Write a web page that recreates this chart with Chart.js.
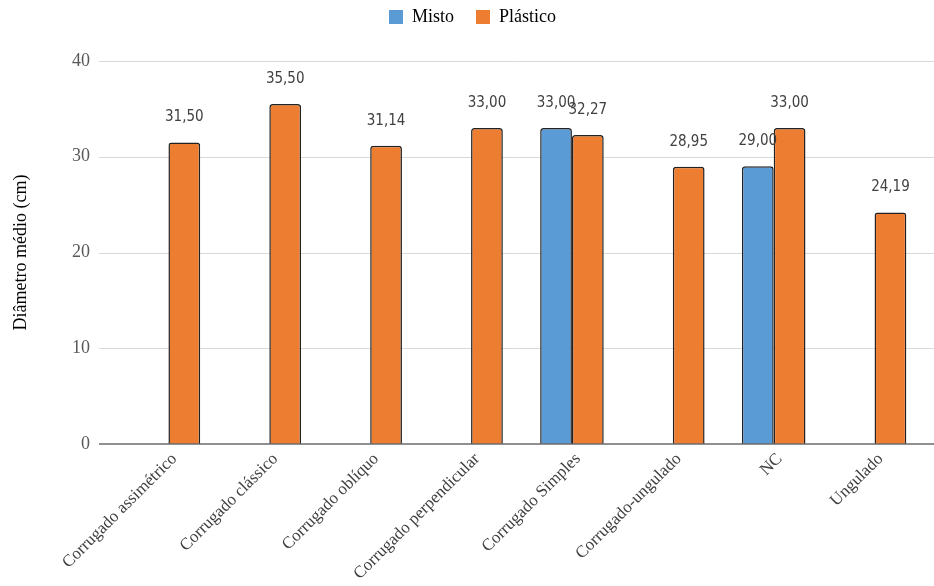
<!DOCTYPE html>
<html>
<head>
<meta charset="utf-8">
<script src="https://cdn.jsdelivr.net/npm/chart.js@4.4.1/dist/chart.umd.min.js"></script>
<style>
  html, body { margin: 0; padding: 0; background: #fff; }
  #wrap { width: 934px; height: 586px; position: relative; }
</style>
</head>
<body>
<div id="wrap"><canvas id="c"></canvas></div>
<script>
// Tipos de corrugado avaliados
const categories = [
  'Corrugado assimétrico',
  'Corrugado clássico',
  'Corrugado oblíquo',
  'Corrugado perpendicular',
  'Corrugado Simples',
  'Corrugado-ungulado',
  'NC',
  'Ungulado'
];

// Diâmetro médio (cm) por material
const seriesNames = ['Misto', 'Plástico'];
const mistoValues    = [null, null, null, null, 33.00, null, 29.00, null];
const plasticoValues = [31.50, 35.50, 31.14, 33.00, 32.27, 28.95, 33.00, 24.19];

// Escala do eixo Y
const yMin = 0;
const yMax = 40;
const yStep = 10;

const SERIF = "'Liberation Serif', 'Times New Roman', serif";
const LABEL_FONT = "15px 'DejaVu Sans Condensed', 'DejaVu Sans', sans-serif";

const fmt = v => v.toFixed(2).replace('.', ',');

// Linhas de grade horizontais, linha de base, legenda e rótulos de valor
const gridAndLabels = {
  id: 'gridAndLabels',
  beforeLayout(chart) {
    const lg = chart.legend;
    if (lg && !lg._patched) {
      const fit = lg.fit;
      lg.fit = function () { fit.call(this); this.height = 61; };
      lg._patched = true;
    }
  },
  afterLayout(chart) {
    const lg = chart.legend;
    if (lg) {
      lg.left += 10; lg.right += 10;
      lg.top -= 14; lg.bottom -= 14;
    }
  },
  beforeDatasetsDraw(chart) {
    const { ctx, chartArea, scales: { y } } = chart;
    ctx.save();
    ctx.strokeStyle = '#d9d9d9';
    ctx.lineWidth = 1;
    y.ticks.forEach(t => {
      if (t.value === 0) return;
      const py = Math.round(y.getPixelForValue(t.value)) + 0.5;
      ctx.beginPath();
      ctx.moveTo(chartArea.left - 19, py);
      ctx.lineTo(chart.width, py);
      ctx.stroke();
    });
    ctx.restore();
  },
  afterDatasetsDraw(chart) {
    const { ctx, chartArea, scales: { y } } = chart;
    ctx.save();
    const py0 = Math.round(y.getPixelForValue(0));
    ctx.strokeStyle = '#6b6b6b';
    ctx.lineWidth = 1.5;
    ctx.beginPath();
    ctx.moveTo(chartArea.left - 19, py0);
    ctx.lineTo(chart.width, py0);
    ctx.stroke();

    ctx.font = LABEL_FONT;
    try { ctx.fontStretch = 'condensed'; } catch (e) {}
    ctx.fillStyle = '#404040';
    ctx.textAlign = 'center';
    ctx.textBaseline = 'alphabetic';
    chart.data.datasets.forEach((ds, di) => {
      const meta = chart.getDatasetMeta(di);
      meta.data.forEach((bar, i) => {
        const v = ds.data[i];
        if (v === null || v === undefined) return;
        ctx.fillText(fmt(v), bar.x, bar.y - 21);
      });
    });
    ctx.restore();
  }
};

new Chart(document.getElementById('c'), {
  type: 'bar',
  data: {
    labels: categories,
    datasets: [
      {
        label: seriesNames[0],
        data: mistoValues,
        backgroundColor: '#5b9bd5',
        borderColor: '#222222',
        borderWidth: 1.5,
        borderRadius: { topLeft: 3, topRight: 3 },
        borderSkipped: 'bottom'
      },
      {
        label: seriesNames[1],
        data: plasticoValues,
        backgroundColor: '#ed7d31',
        borderColor: '#222222',
        borderWidth: 1.5,
        borderRadius: { topLeft: 3, topRight: 3 },
        borderSkipped: 'bottom'
      }
    ]
  },
  options: {
    responsive: true,
    maintainAspectRatio: false,
    animation: false,
    devicePixelRatio: 1,
    categoryPercentage: 0.63,
    barPercentage: 1.0,
    layout: { padding: { left: 0, right: 9, top: 0, bottom: 0 } },
    plugins: {
      tooltip: { enabled: false },
      legend: {
        position: 'top',
        labels: {
          boxWidth: 14,
          boxHeight: 14,
          padding: 22,
          color: '#000',
          font: { family: SERIF, size: 18 },
          generateLabels(chart) {
            return chart.data.datasets.map((ds, i) => ({
              text: ds.label,
              fillStyle: ds.backgroundColor,
              strokeStyle: ds.backgroundColor,
              lineWidth: 0,
              hidden: !chart.isDatasetVisible(i),
              datasetIndex: i
            }));
          }
        }
      }
    },
    scales: {
      x: {
        grid: { display: false, drawTicks: false },
        border: { display: false },
        ticks: {
          autoSkip: false,
          maxRotation: 45,
          minRotation: 45,
          padding: 5,
          labelOffset: 6,
          color: '#404040',
          font: { family: SERIF, size: 17 }
        },
        afterFit(scale) { scale.height = 142; }
      },
      y: {
        min: yMin,
        max: yMax,
        grid: { display: false, drawTicks: false },
        border: { display: false },
        ticks: {
          stepSize: yStep,
          padding: 28,
          color: '#595959',
          font: { family: SERIF, size: 18 }
        },
        title: {
          display: true,
          text: 'Diâmetro médio (cm)',
          color: '#000',
          padding: { top: 10, bottom: 0 },
          font: { family: SERIF, size: 18 }
        },
        afterFit(scale) { scale.width = 118; }
      }
    }
  },
  plugins: [gridAndLabels]
});
</script>
</body>
</html>
